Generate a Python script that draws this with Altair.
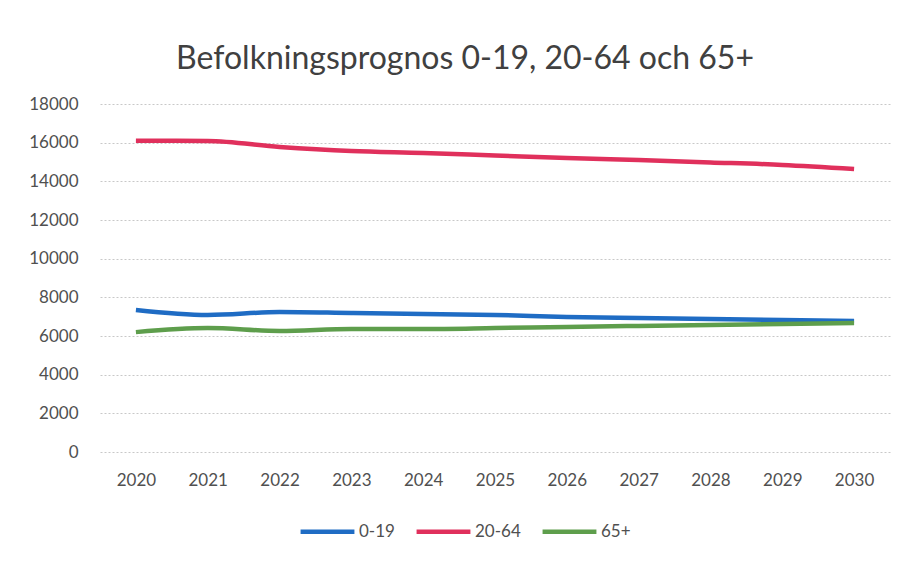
import altair as alt
import pandas as pd

years = ["2020", "2021", "2022", "2023", "2024", "2025", "2026", "2027", "2028", "2029", "2030"]
age_0_19 = [7350, 7090, 7240, 7190, 7140, 7090, 6980, 6930, 6880, 6830, 6780]
age_20_64 = [16100, 16090, 15780, 15570, 15470, 15340, 15210, 15100, 14980, 14850, 14640]
age_65 = [6200, 6410, 6260, 6360, 6360, 6410, 6470, 6520, 6570, 6620, 6670]
series = ["0-19", "20-64", "65+"]
colors = ["#1f6cc4", "#e0305c", "#5e9e4c"]

rows = []
for name, vals in zip(series, [age_0_19, age_20_64, age_65]):
    for y, v in zip(years, vals):
        rows.append({"År": y, "Grupp": name, "Antal": v})
df = pd.DataFrame(rows)

font = "Lato"
gray = "#505050"

chart = alt.Chart(df).mark_line(strokeWidth=4.5, interpolate="monotone").encode(
    x=alt.X("År:O", scale=alt.Scale(type="point", padding=0.5),
            axis=alt.Axis(title=None, labelAngle=0, ticks=False, domain=False,
                          labelPadding=20, labelFontSize=17, labelColor=gray, labelFont=font)),
    y=alt.Y("Antal:Q", scale=alt.Scale(domain=[0, 18000]),
            axis=alt.Axis(title=None, values=list(range(0, 18001, 2000)), format="d",
                          ticks=False, domain=False,
                          labelPadding=22, labelFontSize=17, labelColor=gray, labelFont=font,
                          gridColor="#c8c8c8", gridDash=[2, 2], gridWidth=1)),
    color=alt.Color("Grupp:N", scale=alt.Scale(domain=series, range=colors),
                    legend=alt.Legend(title=None, orient="none", direction="horizontal",
                                      legendX=198, legendY=398,
                                      symbolType="stroke", symbolSize=2900, symbolStrokeWidth=4.5,
                                      labelFontSize=17, labelColor=gray, labelFont=font,
                                      columnPadding=12, labelOffset=2)),
).properties(
    width=790, height=348,
    title=alt.TitleParams("Befolkningsprognos 0-19, 20-64 och 65+", fontSize=32, font=font,
                          fontWeight="normal", color="#404040", offset=19, dx=-30),
    autosize=alt.AutoSizeParams(type="none"),
    padding={"left": 92, "top": 96, "right": 8, "bottom": 108},
).configure_view(stroke=None)

chart.save("out.html", embed_options={"renderer": "svg", "actions": False})
